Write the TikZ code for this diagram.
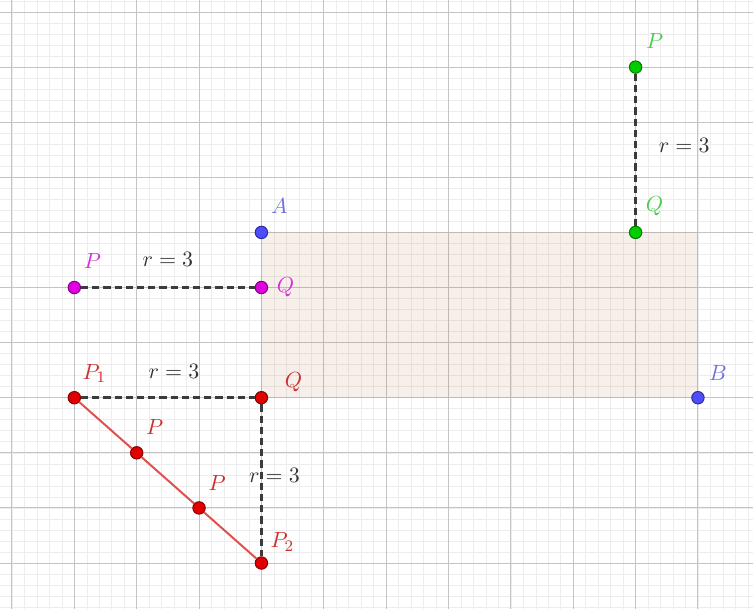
\documentclass[tikz,border=0pt]{standalone}
\usepackage{amsmath}
\usepackage{xcolor}
\definecolor{gridmajor}{HTML}{C4C4C4}
\definecolor{gridminor}{HTML}{EDEDED}
\definecolor{areafill}{HTML}{A34D1A}
\definecolor{ptblue}{HTML}{4D4DFF}
\definecolor{lblblue}{HTML}{7070E0}
\definecolor{ptmag}{HTML}{E000E0}
\definecolor{lblmag}{HTML}{D633D6}
\definecolor{ptred}{HTML}{E00000}
\definecolor{lblred}{HTML}{CC2E2E}
\definecolor{segred}{HTML}{E05050}
\definecolor{ptgreen}{HTML}{00CC00}
\definecolor{lblgreen}{HTML}{4CCC4C}
\definecolor{inkgrey}{HTML}{333333}
\usepackage{tikz}
\usetikzlibrary{positioning}

\begin{document}
\begin{tikzpicture}[x=31.18pt,y=27.55pt,font=\fontsize{11}{13}\selectfont,
  pt/.style={circle,inner sep=0pt,minimum size=6.2pt,line width=0.5pt},
  lbl/.style={inner sep=0pt},
  rlabel/.style={inner sep=0pt,text=inkgrey},
  dashline/.style={inkgrey!90!gray,line width=1.3pt,dash pattern=on 3.6pt off 2pt},
  segline/.style={segred,line width=1pt}]
  \useasboundingbox (-0.192,-0.817) rectangle (11.883,10.218);
  \begin{scope}
    \clip (-0.192,-0.817) rectangle (11.883,10.218);
    \draw[gridminor,line width=0.3pt,xstep=6.236pt,ystep=5.51pt] (-1,-1) grid (12,11);
    \draw[gridmajor,line width=0.5pt,xstep=31.18pt,ystep=27.55pt] (-1,-1) grid (12,11);
  \end{scope}
  \fill[areafill,fill opacity=0.09] (4,3) rectangle (11,6);
  % points
  \node[pt,fill=ptblue,draw=ptblue!60!black] (A) at (4,6) {};
  \node[pt,fill=ptblue,draw=ptblue!60!black] (B) at (11,3) {};
  \node[pt,fill=ptmag,draw=ptmag!60!black] (Pm) at (1,5) {};
  \node[pt,fill=ptmag,draw=ptmag!60!black] (Qm) at (4,5) {};
  \node[pt,fill=ptred,draw=ptred!60!black] (P1) at (1,3) {};
  \node[pt,fill=ptred,draw=ptred!60!black] (Qr) at (4,3) {};
  \node[pt,fill=ptred,draw=ptred!60!black] (P2) at (4,0) {};
  \node[pt,fill=ptred,draw=ptred!60!black] (Pa) at (2,2) {};
  \node[pt,fill=ptred,draw=ptred!60!black] (Pb) at (3,1) {};
  \node[pt,fill=ptgreen,draw=ptgreen!60!black] (Pg) at (10,9) {};
  \node[pt,fill=ptgreen,draw=ptgreen!60!black] (Qg) at (10,6) {};
  % connectors
  \draw[segline] (P1) -- (Pa); \draw[segline] (Pa) -- (Pb); \draw[segline] (Pb) -- (P2);
  \draw[dashline] (Pm) -- node[rlabel,above=10pt] (rm) {$r=3$} (Qm);
  \draw[dashline] (P1) -- node[rlabel,pos=0.535,above=9pt] (rh) {$r=3$} (Qr);
  \draw[dashline] (Qr) -- node[rlabel,pos=0.47,xshift=6.5pt] (rv) {$r=3$} (P2);
  \draw[dashline] (Pg) -- node[rlabel,pos=0.47,right=11pt] (rg) {$r=3$} (Qg);
  % labels
  \node[lbl,text=lblblue] (labA) at ([shift={(9pt,13pt)}]A) {$A$};
  \node[lbl,text=lblblue] (labB) at ([shift={(10pt,12.5pt)}]B) {$B$};
  \node[lbl,text=lblmag] (labPm) at ([shift={(9pt,13pt)}]Pm) {$P$};
  \node[lbl,text=lblmag] (labQm) at ([shift={(12pt,0pt)}]Qm) {$Q$};
  \node[lbl,text=lblred] (labP1) at ([shift={(10pt,12pt)}]P1) {$P_1$};
  \node[lbl,text=lblred] (labQr) at ([shift={(16pt,8pt)}]Qr) {$Q$};
  \node[lbl,text=lblred] (labPa) at ([shift={(9pt,13pt)}]Pa) {$P$};
  \node[lbl,text=lblred] (labPb) at ([shift={(9pt,12.5pt)}]Pb) {$P$};
  \node[lbl,text=lblred] (labP2) at ([shift={(10.5pt,10.5pt)}]P2) {$P_2$};
  \node[lbl,text=lblgreen] (labPg) at ([shift={(9.5pt,13pt)}]Pg) {$P$};
  \node[lbl,text=lblgreen] (labQg) at ([shift={(9.5pt,13pt)}]Qg) {$Q$};
\end{tikzpicture}
\end{document}
